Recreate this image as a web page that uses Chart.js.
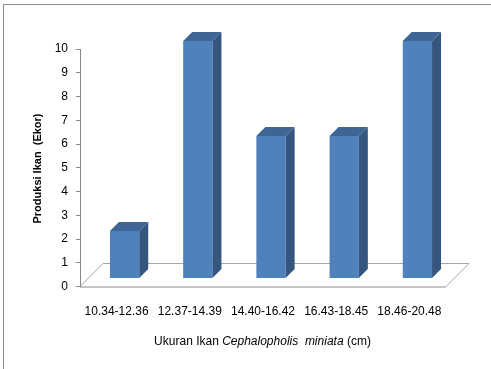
<!DOCTYPE html>
<html>
<head>
<meta charset="utf-8">
<script src="https://cdn.jsdelivr.net/npm/chart.js@4/dist/chart.umd.min.js"></script>
<style>
	html, body { margin: 0; padding: 0; background: #fff; }
	#wrap { position: relative; width: 491px; height: 369px; overflow: hidden; }
	#frame {
		position: absolute; left: 3px; top: 4px; width: 500px; height: 400px;
		border-top: 1px solid #8c8c8c; border-left: 1px solid #8c8c8c;
	}
	canvas { position: absolute; left: 0; top: 0; }
</style>
</head>
<body>
<div id="wrap">
	<div id="frame"></div>
	<canvas id="chart" width="491" height="369"></canvas>
</div>
<script>
const categories = ["10.34-12.36", "12.37-14.39", "14.40-16.42", "16.43-18.45", "18.46-20.48"];
const produksi = [2, 10, 6, 6, 10];
const yTitle = "Produksi Ikan  (Ekor)";
const xTitleParts = [
	{ text: "Ukuran Ikan ", italic: false },
	{ text: "Cephalopholis  miniata", italic: true },
	{ text: " (cm)", italic: false },
];

const FONT = "'Liberation Sans', Arial, sans-serif";
const SHIFT = 8; // bars sit a little back on the floor
const DEPTH = 9; // bar depth
const FLOOR = 23; // floor depth

const bar3d = {
	id: "bar3d",
	beforeDatasetsDraw(chart) {
		const { ctx, chartArea } = chart;
		const y0 = chart.scales.y.getPixelForValue(0);
		const l = chartArea.left, r = chartArea.right;

		ctx.save();
		ctx.strokeStyle = "#a6a6a6";
		ctx.lineWidth = 1;
		ctx.beginPath();
		ctx.moveTo(l, y0);
		ctx.lineTo(l + FLOOR, y0 - FLOOR);
		ctx.lineTo(r + FLOOR, y0 - FLOOR);
		ctx.lineTo(r, y0);
		ctx.stroke();
		ctx.strokeStyle = "#8c8c8c";
		ctx.beginPath();
		ctx.moveTo(l, y0 + 0.5);
		ctx.lineTo(r, y0 + 0.5);
		ctx.stroke();
		ctx.restore();

		ctx.save();
		ctx.translate(SHIFT, -SHIFT);
	},
	afterDatasetsDraw(chart) {
		const { ctx } = chart;
		chart.getDatasetMeta(0).data.forEach((bar) => {
			const { x, y, base, width } = bar.getProps(["x", "y", "base", "width"], true);
			const xl = x - width / 2, xr = x + width / 2;

			ctx.fillStyle = "#34567f";
			ctx.beginPath();
			ctx.moveTo(xr, y);
			ctx.lineTo(xr + DEPTH, y - DEPTH);
			ctx.lineTo(xr + DEPTH, base - DEPTH);
			ctx.lineTo(xr, base);
			ctx.closePath();
			ctx.fill();

			ctx.fillStyle = "#3f6595";
			ctx.beginPath();
			ctx.moveTo(xl, y);
			ctx.lineTo(xl + DEPTH, y - DEPTH);
			ctx.lineTo(xr + DEPTH, y - DEPTH);
			ctx.lineTo(xr, y);
			ctx.closePath();
			ctx.fill();
		});
		ctx.restore();
	},
	afterDraw(chart) {
		const { ctx } = chart;
		ctx.save();
		ctx.fillStyle = "#000";
		ctx.textBaseline = "middle";

		// x axis title, part italic
		const fonts = xTitleParts.map((p) => (p.italic ? "italic " : "") + "12px " + FONT);
		let total = 0;
		xTitleParts.forEach((p, i) => {
			ctx.font = fonts[i];
			total += ctx.measureText(p.text).width;
		});
		let x = 262.5 - total / 2;
		xTitleParts.forEach((p, i) => {
			ctx.font = fonts[i];
			ctx.fillText(p.text, x, 342);
			x += ctx.measureText(p.text).width;
		});

		// y axis title
		ctx.translate(38, 168.5);
		ctx.rotate(-Math.PI / 2);
		ctx.textAlign = "center";
		ctx.font = "bold 11px " + FONT;
		ctx.fillText(yTitle, 0, 0);
		ctx.restore();
	},
};

new Chart(document.getElementById("chart").getContext("2d"), {
	type: "bar",
	data: {
		labels: categories,
		datasets: [
			{
				data: produksi,
				backgroundColor: "#4f81bd",
				borderWidth: 0,
				barPercentage: 0.4,
				categoryPercentage: 1,
			},
		],
	},
	options: {
		responsive: false,
		animation: false,
		events: [],
		layout: {
			padding: { top: 49, right: 45, left: 0, bottom: 0 },
		},
		plugins: {
			legend: { display: false },
			tooltip: { enabled: false },
		},
		scales: {
			x: {
				grid: { display: false, drawTicks: false },
				border: { display: false },
				ticks: {
					padding: 18,
					color: "#000",
					maxRotation: 0,
					font: { family: FONT, size: 12 },
				},
				afterFit: (scale) => {
					scale.height = 82.5;
				},
			},
			y: {
				min: 0,
				max: 10,
				grid: {
					drawOnChartArea: false,
					drawTicks: true,
					tickLength: 4,
					color: "#868686",
				},
				border: { display: true, color: "#868686" },
				ticks: {
					stepSize: 1,
					padding: 8,
					color: "#000",
					font: { family: FONT, size: 12 },
				},
				afterFit: (scale) => {
					scale.width = 80;
				},
			},
		},
	},
	plugins: [bar3d],
});
</script>
</body>
</html>
